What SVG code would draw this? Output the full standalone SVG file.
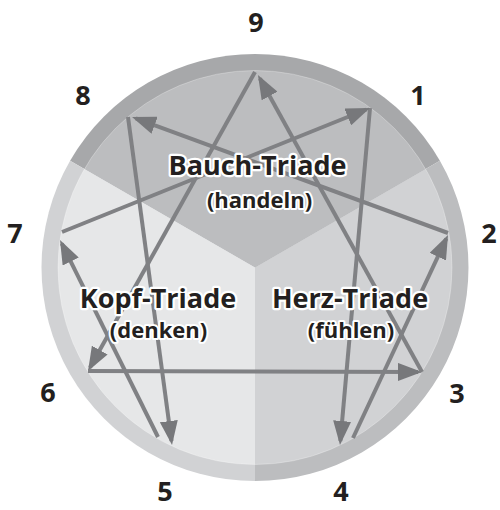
<svg xmlns="http://www.w3.org/2000/svg" width="500" height="510" viewBox="0 0 500 510">
  <style>
    .num { font-family: "Open Sans", "Liberation Sans", sans-serif; font-weight: 700; font-size: 27px; fill: #231f20; text-anchor: middle; }
    .tri { font-family: "Open Sans", "Liberation Sans", sans-serif; font-weight: 700; font-size: 27px; fill: #231f20; text-anchor: middle; stroke: #ffffff; stroke-width: 4.5; stroke-linejoin: round; paint-order: stroke; }
    .sub { font-family: "Open Sans", "Liberation Sans", sans-serif; font-weight: 700; font-size: 22px; fill: #231f20; text-anchor: middle; stroke: #ffffff; stroke-width: 4; stroke-linejoin: round; paint-order: stroke; }
    .ln { stroke: #808184; stroke-width: 4; fill: none; }
    .arr { marker-end: url(#ah); }
  </style>
  <defs>
    <marker id="ah" markerUnits="userSpaceOnUse" markerWidth="24" markerHeight="18" viewBox="0 0 24 18" refX="20" refY="9" orient="auto">
      <path d="M0,0 L24,9 L0,18 Z" fill="#77787b"/>
    </marker>
  </defs>
  <rect width="500" height="510" fill="#ffffff"/>

  <g id="bauch-triade">
    <path d="M255,267.5 L70.1,160.75 A213.5,213.5 0 0 1 439.9,160.75 Z" fill="#a7a8aa"/>
    <path d="M255,267.5 L84.4,169 A197,197 0 0 1 425.6,169 Z" fill="#bcbdbf"/>
  </g>
  <g id="herz-triade">
    <path d="M255,267.5 L439.9,160.75 A213.5,213.5 0 0 1 255,481 Z" fill="#bcbdbf"/>
    <path d="M255,267.5 L425.6,169 A197,197 0 0 1 255,464.5 Z" fill="#d1d2d4"/>
  </g>
  <g id="kopf-triade">
    <path d="M255,267.5 L255,481 A213.5,213.5 0 0 1 70.1,160.75 Z" fill="#d1d2d4"/>
    <path d="M255,267.5 L255,464.5 A197,197 0 0 1 84.4,169 Z" fill="#e6e7e8"/>
  </g>
  <circle cx="255" cy="267.5" r="197" fill="none" stroke="#ffffff" stroke-opacity="0.35" stroke-width="0.8"/>

  <g id="connectors">
    <line class="ln arr" x1="370" y1="108" x2="340.35" y2="441"/>
    <line class="ln arr" x1="353" y1="438" x2="446.3" y2="238.6"/>
    <line class="ln arr" x1="448" y1="233" x2="135.8" y2="118.4"/>
    <line class="ln arr" x1="128" y1="117" x2="171.5" y2="441"/>
    <line class="ln arr" x1="158" y1="437" x2="61.8" y2="243.6"/>
    <line class="ln arr" x1="62" y1="232" x2="366.3" y2="109.5"/>
    <line class="ln arr" x1="255" y1="72" x2="90" y2="367.5"/>
    <line class="ln arr" x1="88" y1="371" x2="418" y2="372"/>
    <line class="ln arr" x1="422" y1="372" x2="259.9" y2="78.5"/>
  </g>

  <g id="labels-triads">
    <text class="tri" x="257.5" y="175">Bauch-Triade</text>
    <text class="sub" x="259.5" y="208">(handeln)</text>
    <text class="tri" x="158" y="308">Kopf-Triade</text>
    <text class="sub" x="158.5" y="338">(denken)</text>
    <text class="tri" x="350" y="308">Herz-Triade</text>
    <text class="sub" x="351" y="338">(fühlen)</text>
  </g>

  <g id="point-9"><text class="num" x="256" y="32">9</text></g>
  <g id="point-1"><text class="num" x="418" y="105">1</text></g>
  <g id="point-2"><text class="num" x="489" y="243">2</text></g>
  <g id="point-3"><text class="num" x="457" y="403">3</text></g>
  <g id="point-4"><text class="num" x="341" y="501">4</text></g>
  <g id="point-5"><text class="num" x="165" y="501">5</text></g>
  <g id="point-6"><text class="num" x="48" y="402">6</text></g>
  <g id="point-7"><text class="num" x="15" y="243">7</text></g>
  <g id="point-8"><text class="num" x="83" y="105">8</text></g>
</svg>
